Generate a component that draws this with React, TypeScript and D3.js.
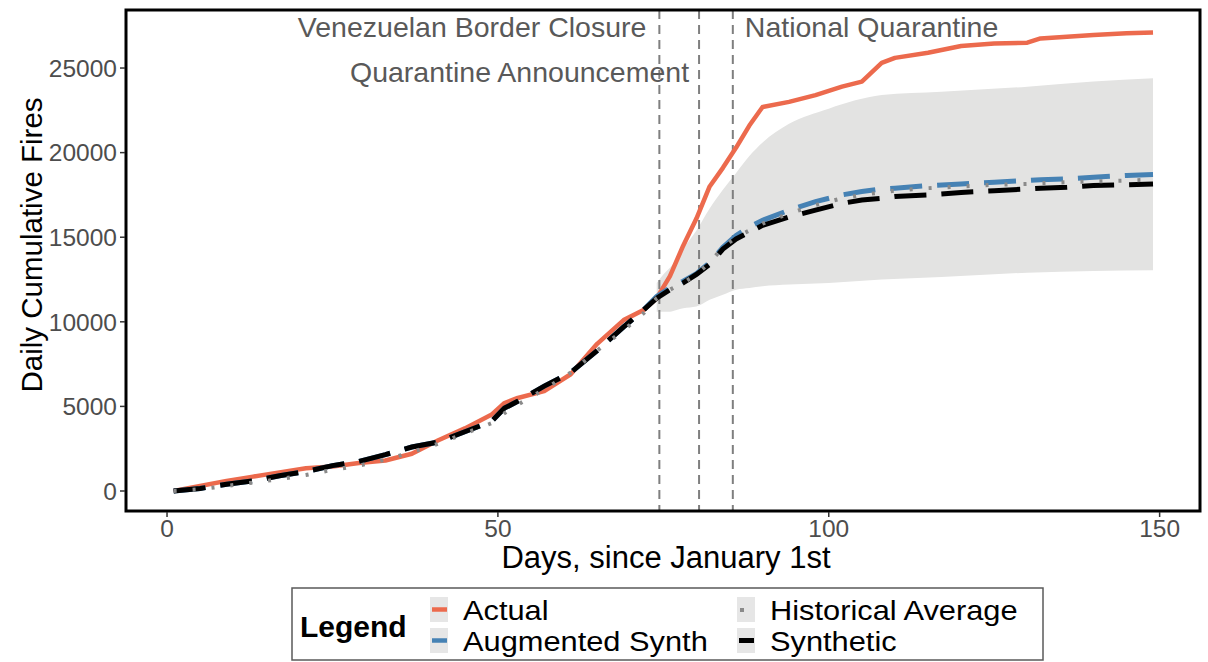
import React from "react";
import * as d3 from "d3";

// ---- data ----
const days = [1, 5, 9, 13, 17, 21, 25, 29, 33, 37, 41, 45, 49, 51, 53, 57, 61, 65, 69, 72, 74, 76, 78, 80, 82, 84, 86, 88, 90, 94, 98, 102, 105, 108, 110, 115, 120, 125, 130, 132, 136, 140, 145, 149];
const actual = [0, 300, 600, 850, 1100, 1350, 1450, 1650, 1800, 2200, 3000, 3700, 4500, 5200, 5500, 5900, 6900, 8700, 10100, 10700, 11400, 12700, 14500, 16100, 18000, 19100, 20300, 21600, 22700, 23000, 23400, 23900, 24200, 25300, 25600, 25900, 26300, 26450, 26500, 26750, 26850, 26950, 27050, 27100];
const synthetic = [0, 150, 400, 600, 900, 1150, 1500, 1750, 2150, 2600, 2900, 3500, 4100, 4900, 5300, 6200, 7000, 8300, 9700, 10700, 11400, 11900, 12300, 12800, 13400, 14300, 14900, 15300, 15700, 16200, 16600, 17000, 17200, 17300, 17400, 17500, 17650, 17750, 17850, 17900, 17950, 18050, 18100, 18150];
const augmented = [0, 150, 400, 600, 900, 1150, 1500, 1750, 2150, 2600, 2900, 3500, 4100, 4900, 5300, 6200, 7000, 8300, 9700, 10700, 11500, 12000, 12400, 12850, 13500, 14400, 15100, 15600, 16000, 16600, 17100, 17500, 17700, 17850, 17900, 18050, 18150, 18250, 18350, 18400, 18450, 18550, 18650, 18700];
const historical = [0, 100, 300, 500, 700, 950, 1250, 1500, 1850, 2300, 2800, 3400, 4000, 4600, 5100, 6000, 7000, 8300, 9500, 10500, 11400, 11900, 12300, 12800, 13500, 14400, 15000, 15400, 15800, 16400, 16900, 17300, 17500, 17650, 17750, 17900, 18000, 18100, 18150, 18200, 18250, 18300, 18350, 18400];

const bandDays = [74, 75, 76, 77, 78, 80, 82, 84, 86, 88, 90, 94, 100, 108, 117, 130, 140, 149];
const bandHigh = [12300, 12800, 13200, 13650, 14300, 15400, 16700, 17800, 18800, 19800, 20600, 21700, 22600, 23400, 23600, 23900, 24200, 24400];
const bandLow = [10600, 10600, 10600, 10700, 10800, 10900, 11300, 11600, 11900, 12000, 12100, 12200, 12300, 12500, 12650, 12900, 13000, 13050];

const eventDays = [74.4, 80.4, 85.5];
const eventLabels = ["Venezuelan Border Closure", "Quarantine Announcement", "National Quarantine"];

const xTicks = [0, 50, 100, 150];
const yTicks = [0, 5000, 10000, 15000, 20000, 25000];

const legendLabels = ["Actual", "Augmented Synth", "Historical Average", "Synthetic"];

const COLORS = {
  actual: "#EC6A4D",
  augmented: "#4682B4",
  historical: "#8a8a8a",
  synthetic: "#000000",
};

const FONT = "'Liberation Sans', Arial, Helvetica, sans-serif";

export default function App() {
  const W = 1208, H = 662;
  const L = 126, R = 1200, T = 10, B = 511;
  const x = d3.scaleLinear().domain([-6.2, 156.1]).range([L, R]);
  const y = d3.scaleLinear().domain([-1182, 28430]).range([B, T]);

  const mk = (vals: number[]) =>
    d3.line<number>().x((_, i) => x(days[i])).y((v) => y(v))(vals) || "";

  const band =
    d3
      .area<number>()
      .x((d) => x(d))
      .y0((_, i) => y(bandLow[i]))
      .y1((_, i) => y(bandHigh[i]))
      .curve(d3.curveMonotoneX)(bandDays) || "";

  const tickColor = "#4d4d4d";

  const annot = [
    { x: x(eventDays[0]) - 13, y: 37, anchor: "end" },
    { x: x(eventDays[1]) - 10, y: 82, anchor: "end" },
    { x: x(eventDays[2]) + 12, y: 37, anchor: "start" },
  ];

  const legendItems = [
    { kx: 430, ky: 597, label: legendLabels[0], color: COLORS.actual, dot: false, w: 4.5 },
    { kx: 430, ky: 628, label: legendLabels[1], color: COLORS.augmented, dot: false, w: 4.5 },
    { kx: 737, ky: 597, label: legendLabels[2], color: COLORS.historical, dot: true, w: 4 },
    { kx: 737, ky: 628, label: legendLabels[3], color: COLORS.synthetic, dot: false, w: 5 },
  ];

  return (
    <svg
      width={W}
      height={H}
      style={{ position: "absolute", left: 0, top: 0, background: "#fff" }}
      fontFamily={FONT}
    >
      <rect x={0} y={0} width={W} height={H} fill="#fff" />
      <defs>
        <clipPath id="panel">
          <rect x={L} y={T} width={R - L} height={B - T} />
        </clipPath>
      </defs>
      <g clipPath="url(#panel)">
        <path d={band} fill="#e3e3e2" />
        {eventDays.map((d, i) => (
          <line
            key={i}
            x1={x(d)}
            x2={x(d)}
            y1={T}
            y2={B}
            stroke="#7f7f7f"
            strokeWidth={2}
            strokeDasharray="9,6"
          />
        ))}
        <path d={mk(actual)} fill="none" stroke={COLORS.actual} strokeWidth={4.5} strokeLinejoin="round" />
        <path d={mk(augmented)} fill="none" stroke={COLORS.augmented} strokeWidth={5} strokeDasharray="32,15" />
        <path d={mk(synthetic)} fill="none" stroke={COLORS.synthetic} strokeWidth={5} strokeDasharray="32,15" />
        <path d={mk(historical)} fill="none" stroke={COLORS.historical} strokeWidth={4} strokeDasharray="3,16" />
      </g>
      {annot.map((a, i) => (
        <text key={i} x={a.x} y={a.y} textAnchor={a.anchor} fontSize={28.5} fill="#595959">
          {eventLabels[i]}
        </text>
      ))}
      <rect x={L} y={T} width={R - L} height={B - T} fill="none" stroke="#000" strokeWidth={3} />

      {/* x axis */}
      {xTicks.map((t) => (
        <g key={t}>
          <line x1={x(t)} x2={x(t)} y1={B + 1} y2={B + 6} stroke="#333" strokeWidth={1.5} />
          <text x={x(t)} y={537} textAnchor="middle" fontSize={24.5} fill={tickColor}>
            {t}
          </text>
        </g>
      ))}
      {yTicks.map((t) => (
        <g key={t}>
          <line x1={L - 6} x2={L - 1} y1={y(t)} y2={y(t)} stroke="#333" strokeWidth={1.5} />
          <text x={117} y={y(t)} dy="0.36em" textAnchor="end" fontSize={24.5} fill={tickColor}>
            {t}
          </text>
        </g>
      ))}
      <text x={666} y={568} textAnchor="middle" fontSize={31} fill="#000">
        Days, since January 1st
      </text>
      <text transform={`translate(42,245) rotate(-90)`} textAnchor="middle" fontSize={29.5} fill="#000">
        Daily Cumulative Fires
      </text>

      {/* legend */}
      <rect x={292} y={588} width={751} height={72} fill="#fff" stroke="#5a5a5a" strokeWidth={1.5} />
      <text x={300} y={637} fontSize={30} fontWeight="bold" fill="#000">
        Legend
      </text>
      {legendItems.map((k, i) => (
        <g key={i}>
          <rect x={k.kx} y={k.ky} width={18} height={25} fill="#e6e6e6" />
          {k.dot ? (
            <rect x={k.kx + 3} y={k.ky + 11} width={4} height={4} fill={k.color} />
          ) : (
            <line
              x1={k.kx + 2}
              x2={k.kx + 17}
              y1={k.ky + 12.5}
              y2={k.ky + 12.5}
              stroke={k.color}
              strokeWidth={k.w}
            />
          )}
          <text
            transform={`translate(${k.kx + 33},${k.ky + 23}) scale(1.12,1)`}
            fontSize={27.5}
            fill="#000"
          >
            {k.label}
          </text>
        </g>
      ))}
    </svg>
  );
}
